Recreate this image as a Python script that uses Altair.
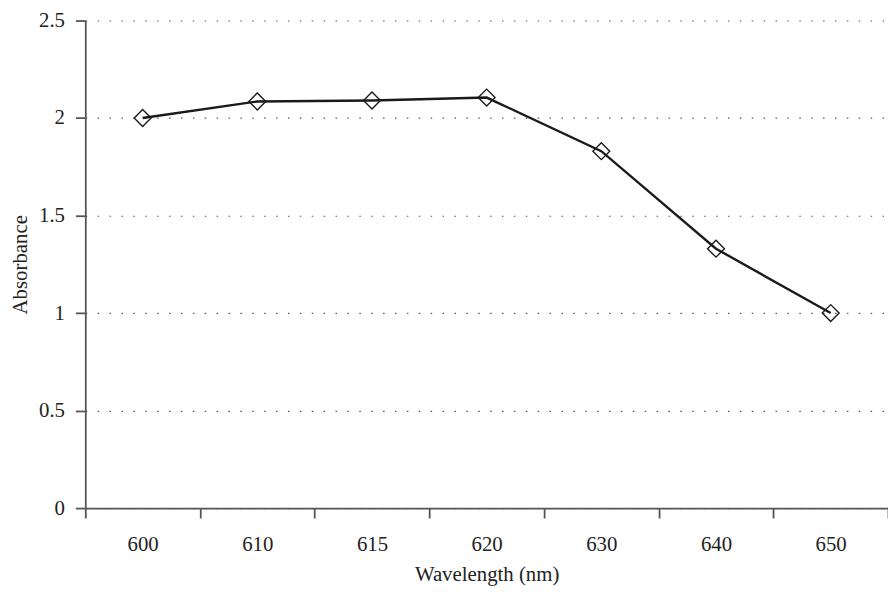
import altair as alt
import pandas as pd

wavelengths = ["600", "610", "615", "620", "630", "640", "650"]
absorbance = [2.00, 2.085, 2.09, 2.105, 1.83, 1.33, 1.00]

df = pd.DataFrame({"Wavelength": wavelengths, "Absorbance": absorbance})

FONT = "Liberation Serif"

x = alt.X(
    "Wavelength:N",
    sort=wavelengths,
    scale=alt.Scale(paddingInner=0, paddingOuter=0),
    axis=alt.Axis(
        title="Wavelength (nm)",
        labelAngle=0,
        tickBand="extent",
        grid=False,
        tickSize=10,
        labelPadding=16,
        titlePadding=9,
    ),
)
y = alt.Y(
    "Absorbance:Q",
    scale=alt.Scale(domain=[0, 2.5], nice=False, zero=True),
    axis=alt.Axis(
        title="Absorbance",
        values=[0, 0.5, 1, 1.5, 2, 2.5],
        labelExpr="datum.value == 0 ? '0' : format(datum.value, '~g')",
        tickSize=10,
        labelPadding=11,
        grid=True,
        gridDash=[1.5, 10.5],
        gridColor="#555555",
        gridWidth=1.2,
        titleX=-65,
        titleBaseline="middle",
    ),
)

line = alt.Chart(df).mark_line(color="#1a1a1a", strokeWidth=2.4).encode(x=x, y=y)
pts = alt.Chart(df).mark_point(
    shape="diamond", size=290, filled=False, stroke="#1a1a1a", strokeWidth=1.4, opacity=1
).encode(x=x, y=y)

chart = (
    alt.layer(line, pts)
    .properties(
        width=810,
        height=492,
        autosize=alt.AutoSizeParams(type="none"),
        padding={"left": 78, "top": 10, "right": 0, "bottom": 78},
    )
    .configure_view(stroke=None)
    .configure_axis(
        labelFont=FONT,
        titleFont=FONT,
        labelFontSize=21,
        titleFontSize=21,
        titleFontWeight="normal",
        labelColor="#222222",
        titleColor="#222222",
        domainColor="#555555",
        domainWidth=1.8,
        tickColor="#555555",
        tickWidth=1.8,
    )
)

chart.save("out.html", embed_options={"renderer": "svg", "actions": False})
